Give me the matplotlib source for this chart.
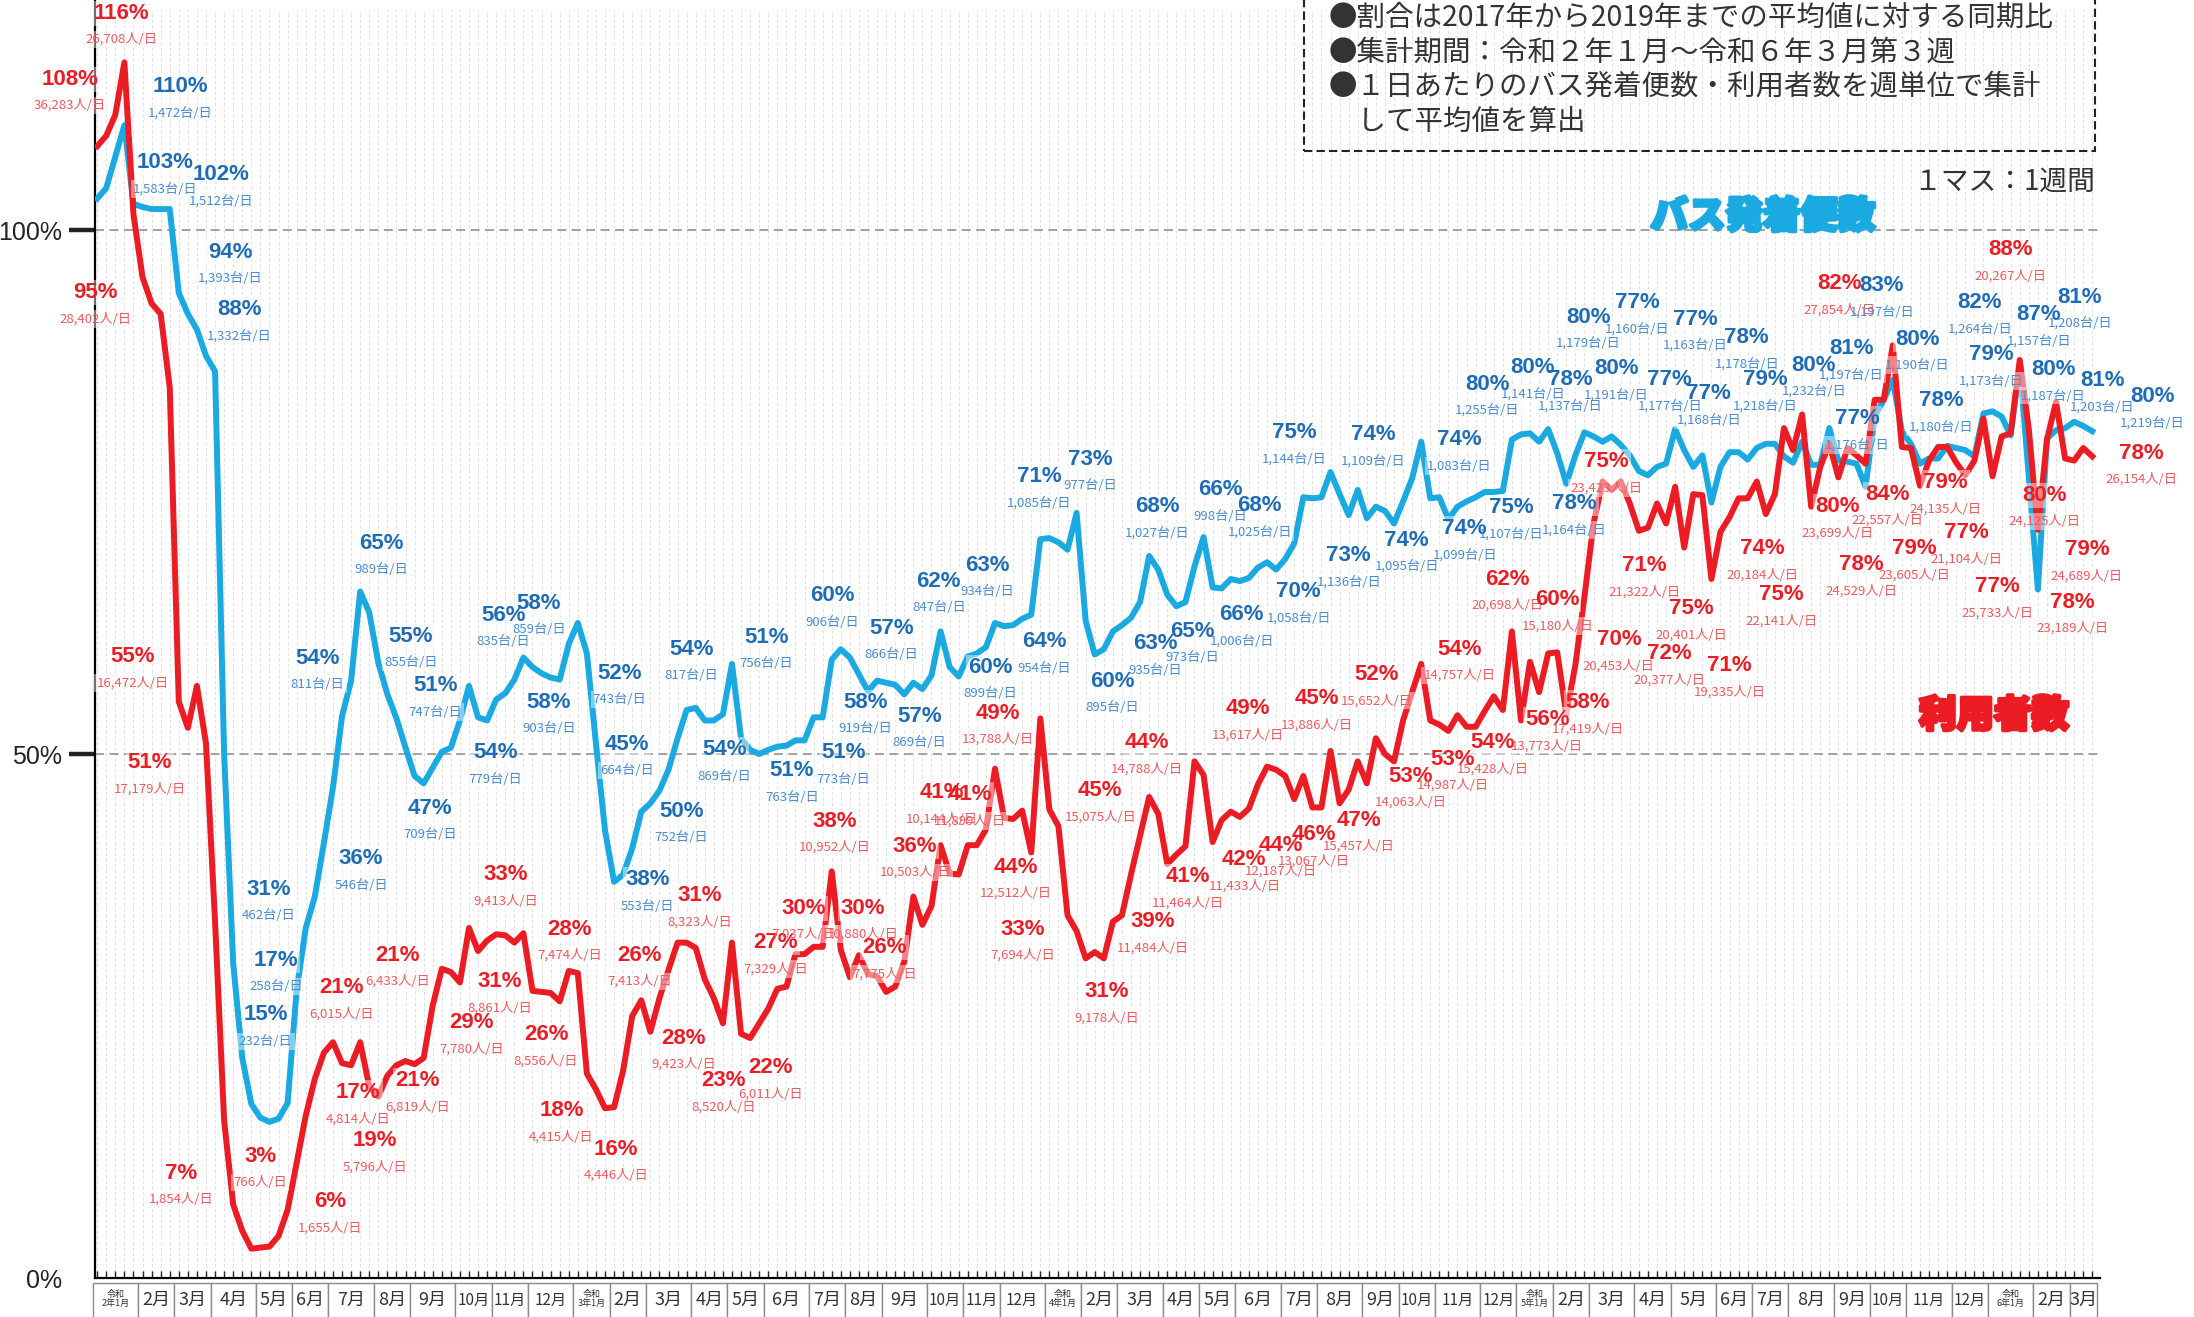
import pandas as pd
import matplotlib.pyplot as plt
from matplotlib.patches import Rectangle
import matplotlib.patheffects as pe

plt.rcParams['font.family'] = ['Noto Sans CJK JP', 'DejaVu Sans']

# 1マス = 1週間 (令和2年1月第1週 ～ 令和6年3月第3週)
weeks = pd.date_range("2020-01-01", periods=221, freq="7D")

# バス発着便数 (2017-2019平均比, %)
bus = [
    103, 104, 107, 110, 102.5,            # 2020/1
    102.2, 102, 102, 102,                 # 2
    94, 92, 90.5, 88,                     # 3
    86.5, 50, 30, 21, 16.6,               # 4
    15.3, 14.9, 15.2, 16.7,               # 5
    27.5, 33.4, 36.4, 41.5,               # 6
    46.8, 53.6, 57, 65.5, 63.5,           # 7
    58.7, 55.7, 53.4, 50.6,               # 8
    47.9, 47.2, 48.7, 50.2, 50.6,         # 9
    53.2, 56.5, 53.5, 53.2,               # 10
    55.2, 55.8, 57.1, 59.2,               # 11
    58.3, 57.7, 57.3, 57.1, 60.5,         # 12
    62.5, 59.6, 51, 42.7,                 # 2021/1
    37.8, 38.5, 41, 44.5,
    45.3, 46.5, 48.5, 51.5, 54.2,
    54.4, 53.2, 53.2, 53.8,
    58.6, 51.5, 50.4, 50,
    50.4, 50.7, 50.8, 51.3, 51.3,
    53.5, 53.5, 59, 60,
    59.2, 57.6, 56, 57,
    56.8, 56.6, 55.7, 56.8, 56.2,
    57.5, 61.7, 58.3, 57.4,
    59.3, 59.6, 60.2, 62.5,
    62.2, 62.3, 62.9, 63.3, 70.5,
    70.6, 70.2, 69.5, 73,                 # 2022/1
    62.7, 59.5, 60, 61.7,
    62.3, 63, 64.5, 68.9, 67.6,
    65.2, 64.1, 64.5, 67.9,
    70.7, 65.9, 65.8, 66.7,
    66.5, 66.8, 67.8, 68.3, 67.6,
    68.6, 70.1, 74.5, 74.4,
    74.5, 76.9, 74.8, 72.8, 75.2,
    72.5, 73.6, 73.2, 72,
    74.1, 76.3, 79.8, 74.4,
    74.5, 72.4, 73.6, 74.1, 74.5,
    75, 75, 75.1, 80,
    80.5, 80.6, 79.8, 81,                 # 2023/1
    78.7, 75.8, 78.5, 80.7,
    80.3, 79.8, 80.3, 79.5, 78.5,
    77, 76.6, 77.4, 77.7,
    81, 79, 77.4, 78.5, 74,
    77.4, 78.8, 78.8, 78.1,
    79.2, 79.6, 79.6, 78.4,
    77.8, 79.8, 77.6, 77.6, 81.1,
    78, 77.9, 77.7, 75.5,
    82.2, 83.8, 85.7, 80.8,
    79.6, 77.7, 78.2, 78.2, 79.4,
    79.2, 79, 78.4, 82.5,
    82.7, 82.2, 80.4, 87.2, 76.5,         # 2024/1
    65.7, 80.1, 80.9, 81.1,
    81.7, 81.3, 80.8,
]

# 利用者数 (2017-2019平均比, %)
users = [
    108, 109, 111, 116, 101.5,            # 2020/1
    95.5, 93, 92, 85,
    55, 52.5, 56.5, 51,
    34, 15, 7, 4.5, 2.8,
    2.9, 3, 4, 6.5,
    11, 15.5, 19, 21.5,
    22.5, 20.5, 20.3, 22.5, 18.3,
    17.3, 19.3, 20.3, 20.7,
    20.4, 21, 26, 29.5, 29.2,
    28.2, 33.4, 31.2, 32.2,
    32.8, 32.7, 32, 32.9,
    27.4, 27.3, 27.2, 26.4, 29.3,
    29.1, 19.5, 18, 16.2,                 # 2021/1
    16.3, 19.8, 25, 26.5,
    23.5, 26.7, 29.4, 32, 32,
    31.5, 28.5, 26.7, 24.3,
    32, 23.3, 22.9, 24.3,
    25.7, 27.6, 27.8, 30.9, 30.9,
    31.6, 31.6, 38.8, 31.3,
    28.7, 30.8, 29, 28.8,
    27.3, 27.8, 30.2, 36.4, 33.7,
    35.5, 41.3, 38.6, 38.5,
    41.3, 41.3, 42.8, 48.6,
    43.9, 43.8, 44.6, 40.6, 53.4,
    44.7, 43.1, 34.6, 33.1,               # 2022/1
    30.5, 31.1, 30.5, 34,
    34.6, 38.5, 42.2, 45.9, 44.3,
    39.5, 40.4, 41.2, 49.3,
    48, 41.6, 43.7, 44.5,
    44, 44.8, 47.1, 48.8, 48.5,
    47.9, 45.7, 47.9, 44.9,
    44.9, 50.3, 45.3, 46.6, 49.3,
    47.2, 51.5, 50, 49.3,
    53.2, 55.9, 58.6, 53.2,
    52.8, 52.2, 53.7, 52.6, 52.6,
    54.1, 55.5, 54.2, 61.7,
    53.2, 58.8, 55.9, 59.6,               # 2023/1
    59.7, 53.8, 58.5, 65,
    72, 76, 75.2, 76, 73.9,
    71.3, 71.6, 73.9, 72,
    75.5, 69.7, 74.8, 74.7, 66.7,
    71.2, 72.6, 74.4, 74.4,
    76, 72.9, 74.8, 81.1,
    79, 82.4, 73.6, 77.4, 79.6,
    76.4, 79.2, 78.5, 77.7,
    83.8, 83.8, 89, 79.3,
    79.2, 75.6, 78, 79.3, 79.3,
    77.8, 76.6, 78, 82,
    76.5, 80.3, 80.6, 87.6, 81,           # 2024/1
    71.4, 80, 83.6, 78.2,
    78, 79.2, 78.4,
]

# 注記 (利用者数)
user_pct = ["116%", "108%", "95%", "55%", "51%", "7%", "3%", "6%", "21%", "17%",
            "19%", "21%", "21%", "29%", "33%", "31%", "26%", "18%", "28%", "16%",
            "26%", "28%", "31%", "23%", "22%", "27%", "30%", "38%", "30%", "26%",
            "36%", "41%", "41%", "49%", "44%", "33%", "31%", "39%", "45%", "44%",
            "41%", "49%", "42%", "44%", "46%", "45%", "47%", "52%", "53%", "54%",
            "53%", "54%", "62%", "60%", "56%", "58%", "70%", "75%", "71%", "72%",
            "75%", "71%", "74%", "75%", "82%", "80%", "78%", "84%", "79%", "79%",
            "77%", "77%", "88%", "80%", "79%", "78%", "78%"]
user_cnt = ["26,708", "36,283", "28,402", "16,472", "17,179", "1,854", "766", "1,655", "6,015", "4,814",
            "5,796", "6,433", "6,819", "7,780", "9,413", "8,861", "8,556", "4,415", "7,474", "4,446",
            "7,413", "9,423", "8,323", "8,520", "6,011", "7,329", "7,037", "10,952", "10,880", "7,775",
            "10,503", "10,144", "11,899", "13,788", "12,512", "7,694", "9,178", "11,484", "15,075", "14,788",
            "11,464", "13,617", "11,433", "12,187", "13,067", "13,886", "15,457", "15,652", "14,063", "14,757",
            "14,987", "15,428", "20,698", "15,180", "13,773", "17,419", "20,453", "23,423", "21,322", "20,377",
            "20,401", "19,335", "20,184", "22,141", "27,854", "23,699", "24,529", "22,557", "23,605", "24,135",
            "21,104", "25,733", "20,267", "24,125", "24,689", "23,189", "26,154"]
user_pos = [(2.7, 120.7), (-3.0, 114.4), (-0.2, 94.0), (3.9, 59.3), (5.8, 49.2), (9.3, 10.0),
            (18.0, 11.6), (25.7, 7.3), (26.9, 27.7), (28.8, 17.7), (30.6, 13.1), (33.1, 30.8),
            (35.3, 18.8), (41.3, 24.4), (45.0, 38.5), (44.4, 28.3), (49.5, 23.2), (51.2, 16.0),
            (52.1, 33.3), (57.2, 12.3), (59.8, 30.8), (64.7, 22.9), (66.4, 36.5), (69.1, 18.8),
            (74.2, 20.1), (74.8, 32.0), (77.9, 35.3), (81.3, 43.6), (84.4, 35.3), (86.8, 31.5),
            (90.2, 41.2), (93.1, 46.3), (96.2, 46.1), (99.3, 53.9), (101.3, 39.2), (102.1, 33.3),
            (111.3, 27.3), (116.4, 34.0), (110.6, 46.5), (115.7, 51.1), (120.3, 38.3), (126.9, 54.3),
            (126.5, 39.9), (130.5, 41.3), (134.2, 42.3), (134.5, 55.3), (139.1, 43.7), (141.1, 57.6),
            (144.8, 47.9), (150.2, 60.0), (149.5, 49.5), (153.9, 51.1), (155.5, 66.7), (161.0, 64.7),
            (159.9, 53.3), (164.4, 54.9), (167.8, 60.9), (166.4, 77.9), (170.6, 68.0), (173.4, 59.6),
            (175.8, 63.9), (180.0, 58.4), (183.6, 69.6), (185.7, 65.2), (192.1, 94.9), (191.9, 73.6),
            (194.5, 68.1), (197.4, 74.8), (200.4, 69.6), (203.8, 75.9), (206.1, 71.1), (209.5, 66.0),
            (211.0, 98.1), (214.7, 74.7), (219.4, 69.5), (217.8, 64.5), (225.4, 78.7)]

# 注記 (バス発着便数)
bus_pct = ["110%", "103%", "102%", "94%", "88%", "31%", "17%", "15%", "54%", "36%",
           "65%", "55%", "51%", "47%", "56%", "58%", "54%", "58%", "52%", "45%",
           "38%", "54%", "50%", "51%", "54%", "51%", "60%", "51%", "58%", "57%",
           "57%", "62%", "63%", "60%", "64%", "71%", "73%", "60%", "68%", "63%",
           "65%", "66%", "68%", "66%", "70%", "75%", "74%", "73%", "74%", "74%",
           "74%", "80%", "75%", "80%", "78%", "78%", "80%", "77%", "80%", "77%",
           "77%", "77%", "78%", "79%", "80%", "81%", "77%", "83%", "80%", "78%",
           "82%", "79%", "87%", "81%", "80%", "81%", "80%"]
bus_cnt = ["1,472", "1,583", "1,512", "1,393", "1,332", "462", "258", "232", "811", "546",
           "989", "855", "747", "709", "835", "859", "779", "903", "743", "664",
           "553", "817", "752", "756", "869", "763", "906", "773", "919", "866",
           "869", "847", "934", "899", "954", "1,085", "977", "895", "1,027", "935",
           "973", "998", "1,025", "1,006", "1,058", "1,144", "1,109", "1,136", "1,095", "1,083",
           "1,099", "1,255", "1,107", "1,141", "1,137", "1,164", "1,179", "1,160", "1,191", "1,163",
           "1,177", "1,168", "1,178", "1,218", "1,232", "1,197", "1,176", "1,197", "1,190", "1,180",
           "1,264", "1,173", "1,157", "1,208", "1,187", "1,203", "1,219"]
bus_pos = [(9.2, 113.7), (7.5, 106.4), (13.7, 105.3), (14.7, 97.9), (15.7, 92.4), (18.9, 37.1),
           (19.7, 30.3), (18.6, 25.1), (24.3, 59.1), (29.1, 40.0), (31.3, 70.1), (34.6, 61.2),
           (37.3, 56.5), (36.7, 44.8), (44.8, 63.2), (48.7, 64.4), (43.9, 50.1), (49.8, 54.9),
           (57.6, 57.7), (58.4, 50.9), (60.7, 38.0), (65.5, 60.0), (64.4, 44.5), (73.8, 61.1),
           (69.2, 50.4), (76.6, 48.4), (81.1, 65.1), (82.3, 50.1), (84.7, 54.9), (87.6, 62.0),
           (90.7, 53.6), (92.8, 66.5), (98.2, 68.0), (98.5, 58.3), (104.4, 60.7), (103.9, 76.5),
           (109.5, 78.1), (111.9, 56.9), (116.9, 73.6), (116.7, 60.5), (120.8, 61.7), (123.8, 75.2),
           (128.2, 73.7), (126.2, 63.3), (132.5, 65.5), (132.0, 80.7), (140.7, 80.5), (138.0, 68.9),
           (144.4, 70.4), (150.2, 80.0), (150.8, 71.5), (153.3, 85.3), (155.9, 73.5), (158.3, 86.9),
           (162.4, 85.7), (162.9, 73.9), (164.4, 91.7), (169.8, 93.1), (167.5, 86.8), (176.2, 91.5),
           (173.4, 85.7), (177.7, 84.4), (181.9, 89.7), (183.9, 85.7), (189.3, 87.1), (193.4, 88.7),
           (194.1, 82.0), (196.8, 94.7), (200.7, 89.6), (203.3, 83.7), (207.6, 93.1), (208.9, 88.1),
           (214.1, 91.9), (218.6, 93.6), (215.7, 86.7), (221.1, 85.6), (226.6, 84.1)]

notes = ["●割合は2017年から2019年までの平均値に対する同期比",
         "●集計期間：令和２年１月～令和６年３月第３週",
         "●１日あたりのバス発着便数・利用者数を週単位で集計",
         "　して平均値を算出"]

RED = "#ec1c24"
RED_LT = "#f0595e"
BLUE = "#1aa9e1"
BLUE_DK = "#1e6cb5"
BLUE_LT = "#4a8ccf"

fig = plt.figure(figsize=(21.94, 13.17), dpi=100)
ax = fig.add_axes([95 / 2194, 39 / 1317, 2005 / 2194, 1278 / 1317])
ax.set_xlim(-0.24, 220.85)
ax.set_ylim(0, 121.95)

k = list(range(len(weeks)))

# 週ごとの薄い縦線
ax.vlines(k, 0, 121, colors="#e2e2e2", lw=0.8, linestyles=(0, (3, 2)), zorder=0)
ax.hlines([50, 100], -0.24, 220.6, colors="#9a9a9a", lw=1.3, linestyles=(0, (5, 3)), zorder=1)

ax.plot(k, bus, color=BLUE, lw=4.3, solid_joinstyle="round", zorder=3)
ax.plot(k, users, color=RED, lw=4.3, solid_joinstyle="round", zorder=3)

# 注記: 半透明の白地 -> 文字
def put_labels(pos, pcts, cnts, unit, c_pct, c_cnt):
    for (x, y), p, c in zip(pos, pcts, cnts):
        for txt, yy, fs, kw in [(p, y, 16, dict(fontweight="bold", family=["Liberation Sans", "DejaVu Sans"])),
                                (c + unit, y - 2.5, 9.5, dict(family=["Noto Sans CJK JP", "DejaVu Sans"]))]:
            ax.text(x, yy, txt, ha="center", va="center", fontsize=fs, color="none",
                    bbox=dict(fc="white", ec="none", alpha=0.45, pad=1.5), zorder=4, **kw)
    for (x, y), p, c in zip(pos, pcts, cnts):
        ax.text(x, y, p, ha="center", va="center", fontsize=16, fontweight="bold",
                family=["Liberation Sans", "DejaVu Sans"], color=c_pct, zorder=6)
        ax.text(x, y - 2.5, c + unit, ha="center", va="center", fontsize=9.5,
                family=["Noto Sans CJK JP", "DejaVu Sans"], color=c_cnt, zorder=6)

put_labels(user_pos, user_pct, user_cnt, "人/日", RED, RED_LT)
put_labels(bus_pos, bus_pct, bus_cnt, "台/日", BLUE_DK, BLUE_LT)

# 軸
for s in ["top", "right"]:
    ax.spines[s].set_visible(False)
ax.spines["left"].set_linewidth(1.6)
ax.spines["bottom"].set_linewidth(1.6)
ax.set_yticks([0, 50, 100])
ax.set_yticklabels(["0%", "50%", "100%"], fontsize=18, color="#222",
                   family=["Liberation Sans Narrow", "Liberation Sans", "DejaVu Sans"])
ax.tick_params(axis="y", length=19, width=3.2, pad=5, color="#222")
ax.yaxis.get_major_ticks()[0].tick1line.set_visible(False)
ax.set_xticks(k)
ax.set_xticklabels([])
ax.tick_params(axis="x", length=5, width=1, direction="in", color="#222")

# 月の枠
month_key = weeks.year * 100 + weeks.month
starts = [i for i in k if i == 0 or month_key[i] != month_key[i - 1]]
ends = starts[1:] + [len(weeks)]
for s, e in zip(starts, ends):
    d = weeks[s]
    ax.add_patch(Rectangle((s - 0.5, -0.5), e - s, -3.4, fc="white", ec="#8a8a8a",
                           lw=1.0, clip_on=False, zorder=2))
    xc = (s + e - 1) / 2
    if d.month == 1:
        ax.text(xc, -2.0, f"令和\n{d.year - 2018}年1月", ha="center", va="center",
                fontsize=6.5, linespacing=1.0, color="#333", clip_on=False)
    else:
        ax.text(xc, -2.1, f"{d.month}月", ha="center", va="center",
                fontsize=13 if d.month < 10 else 11, color="#333", clip_on=False)

# 凡例の文字
fig.text(1763 / 2194, 1 - 217 / 1317, "バス発着便数", ha="center", va="center", fontsize=27,
         fontweight="black", color=BLUE,
         path_effects=[pe.withStroke(linewidth=2.5, foreground=BLUE)])
fig.text(1994 / 2194, 1 - 716 / 1317, "利用者数", ha="center", va="center", fontsize=27,
         fontweight="black", color=RED,
         path_effects=[pe.withStroke(linewidth=2.5, foreground=RED)])

# 注記の枠
fig.patches.append(Rectangle((1304 / 2194, 1 - 151 / 1317), 791 / 2194, 0.2, transform=fig.transFigure,
                             fill=False, ec="#222", lw=1.5, ls=(0, (4, 2))))
for i, line in enumerate(notes):
    fig.text(1329 / 2194, 1 - (18 + 34.5 * i) / 1317, line, ha="left", va="center",
             fontsize=20.5, color="#333")
fig.text(2095 / 2194, 1 - 182 / 1317, "１マス：1週間", ha="right", va="center", fontsize=20, color="#333")

fig.savefig("out.png", dpi=100)
